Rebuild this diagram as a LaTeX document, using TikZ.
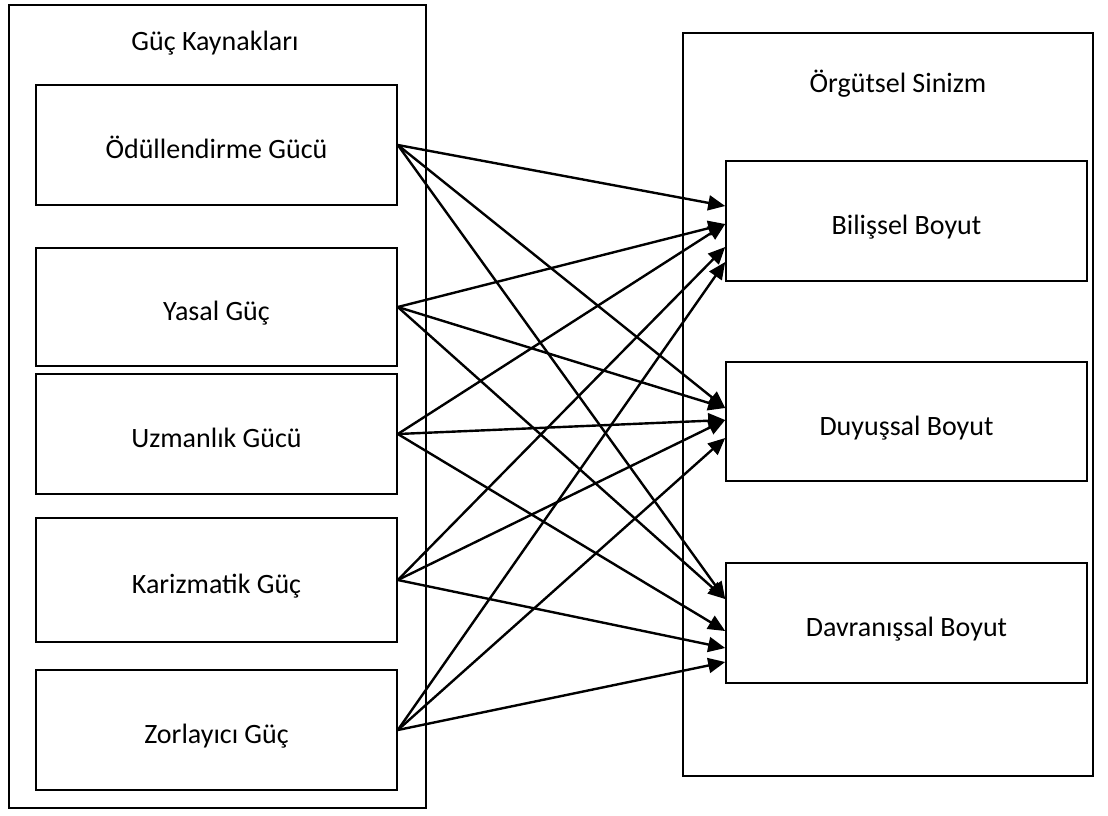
\documentclass[tikz,border=0pt]{standalone}
\usepackage{fontspec}
\setmainfont{Carlito}
\usetikzlibrary{arrows.meta}
\begin{document}
\begin{tikzpicture}[x=1pt,y=-1pt,
  outerbox/.style={draw,line width=1.6pt,inner sep=0pt},
  itembox/.style={draw,line width=1.6pt,minimum width=361pt,minimum height=120pt,inner sep=0pt,text height=27pt,text depth=0pt,font=\fontsize{28}{34}\selectfont},
  titletext/.style={font=\fontsize{28}{34}\selectfont,inner sep=0pt},
  link/.style={line width=2.4pt,-{Triangle[length=17pt,width=15pt]}}]
\useasboundingbox (0,0) rectangle (1108,815);
% outer boxes
\node[outerbox,minimum width=417pt,minimum height=803pt] (LO) at (217.5,406.5) {};
\node[outerbox,minimum width=410pt,minimum height=743pt] (RO) at (888,404.5) {};
\node[titletext] (LT) at (215,43) {Güç Kaynakları};
\node[titletext] (RT) at (898,84) {Örgütsel Sinizm};
% left items
\node[itembox] (L1) at (216.5,145) {Ödüllendirme Gücü};
\node[itembox,minimum height=118pt] (L2) at (216.5,307) {Yasal Güç};
\node[itembox] (L3) at (216.5,434) {Uzmanlık Gücü};
\node[itembox,minimum height=124pt] (L4) at (216.5,580) {Karizmatik Güç};
\node[itembox] (L5) at (216.5,730) {Zorlayıcı Güç};
% right items
\node[itembox] (R1) at (906.5,221) {Bilişsel Boyut};
\node[itembox,minimum height=119pt] (R2) at (906.5,421.5) {Duyuşsal Boyut};
\node[itembox] (R3) at (906.5,623) {Davranışsal Boyut};
% connectors
\draw[link] (L1.east) -- ([yshift=15pt]R1.west);
\draw[link] (L1.east) -- ([yshift=13.5pt]R2.west);
\draw[link] (L1.east) -- ([yshift=24pt]R3.west);
\draw[link] (L2.east) -- ([yshift=-3pt]R1.west);
\draw[link] (L2.east) -- ([yshift=13.5pt]R2.west);
\draw[link] (L2.east) -- ([yshift=24pt]R3.west);
\draw[link] (L3.east) -- ([yshift=-3pt]R1.west);
\draw[link] (L3.east) -- ([yshift=1.5pt]R2.west);
\draw[link] (L3.east) -- ([yshift=-8pt]R3.west);
\draw[link] (L4.east) -- ([yshift=-26pt]R1.west);
\draw[link] (L4.east) -- ([yshift=1.5pt]R2.west);
\draw[link] (L4.east) -- ([yshift=-25pt]R3.west);
\draw[link] (L5.east) -- ([yshift=-41pt]R1.west);
\draw[link] (L5.east) -- ([yshift=-16.5pt]R2.west);
\draw[link] (L5.east) -- ([yshift=-39pt]R3.west);
\end{tikzpicture}
\end{document}
